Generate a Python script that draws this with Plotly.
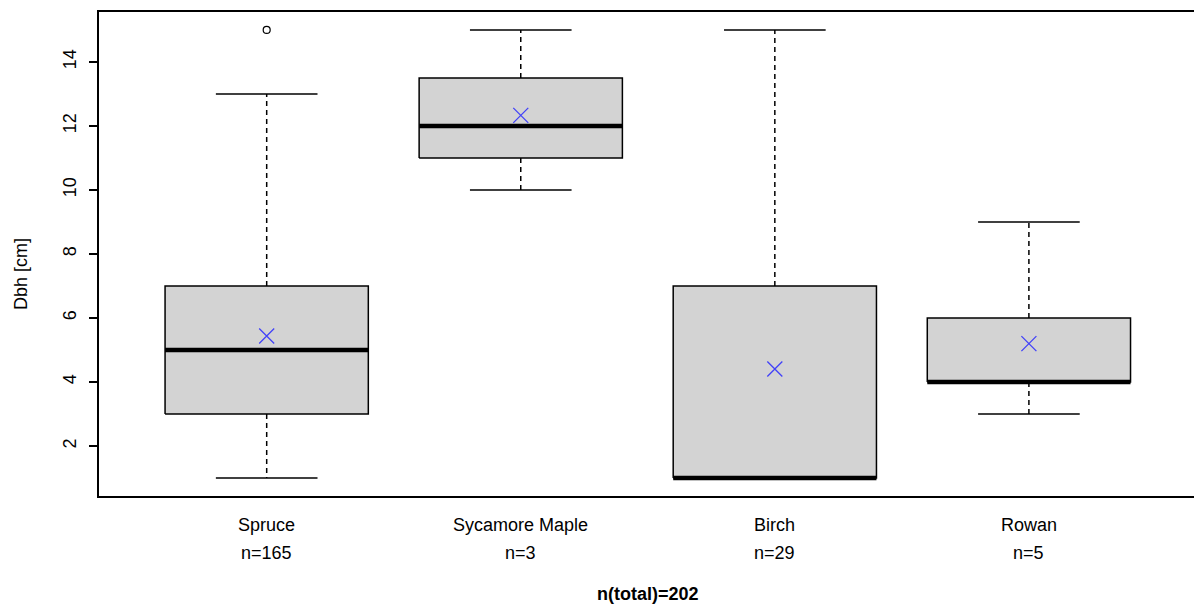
import plotly.graph_objects as go

# Summary statistics per tree species (diameter at breast height, cm)
species = ["Spruce", "Sycamore Maple", "Birch", "Rowan"]
n_obs = [165, 3, 29, 5]
lower_whisker = [1, 10, 1, 3]
q1 = [3, 11, 1, 4]
median = [5, 12, 1, 4]
q3 = [7, 13.5, 7, 6]
upper_whisker = [13, 15, 15, 9]
means = [5.44, 12.33, 4.41, 5.2]
outliers = [[15], [], [], []]
y_ticks = [2, 4, 6, 8, 10, 12, 14]

FONT = "Liberation Sans, Arial, sans-serif"
BOX_HALF = 0.4
STAPLE_HALF = 0.2
LW = 1.5

positions = list(range(1, len(species) + 1))
fig = go.Figure()

for p, lo, a, m, b, hi in zip(positions, lower_whisker, q1, median, q3, upper_whisker):
    # dashed whiskers
    fig.add_trace(go.Scatter(
        x=[p, p, None, p, p], y=[b, hi, None, a, lo], mode="lines",
        line=dict(color="black", width=LW, dash="5px,4px"),
        hoverinfo="skip", showlegend=False))
    # staples
    fig.add_trace(go.Scatter(
        x=[p - STAPLE_HALF, p + STAPLE_HALF, None, p - STAPLE_HALF, p + STAPLE_HALF],
        y=[hi, hi, None, lo, lo], mode="lines",
        line=dict(color="black", width=LW),
        hoverinfo="skip", showlegend=False))
    # box between the hinges
    fig.add_trace(go.Scatter(
        x=[p - BOX_HALF, p + BOX_HALF, p + BOX_HALF, p - BOX_HALF, p - BOX_HALF],
        y=[a, a, b, b, a], mode="lines", fill="toself",
        fillcolor="#D3D3D3", line=dict(color="black", width=LW),
        hoverinfo="skip", showlegend=False))
    # median
    fig.add_trace(go.Scatter(
        x=[p - BOX_HALF, p + BOX_HALF], y=[m, m], mode="lines",
        line=dict(color="black", width=4.5),
        hoverinfo="skip", showlegend=False))

# outliers
ox, oy = [], []
for p, pts in zip(positions, outliers):
    for v in pts:
        ox.append(p)
        oy.append(v)
fig.add_trace(go.Scatter(
    x=ox, y=oy, mode="markers",
    marker=dict(symbol="circle-open", size=7, color="black", line=dict(width=1.2)),
    showlegend=False))

# means
fig.add_trace(go.Scatter(
    x=positions, y=means, mode="markers",
    marker=dict(symbol="x-thin-open", size=15, color="rgba(40,40,255,0.85)",
                line=dict(width=1.3, color="rgba(40,40,255,0.85)")),
    showlegend=False))

annotations = []
for p, name, n in zip(positions, species, n_obs):
    annotations.append(dict(x=p, y=0, xref="x", yref="paper", text=name,
                            showarrow=False, yanchor="middle", yshift=-29,
                            font=dict(size=18, color="black", family=FONT)))
    annotations.append(dict(x=p, y=0, xref="x", yref="paper", text=f"n={n}",
                            showarrow=False, yanchor="middle", yshift=-57,
                            font=dict(size=18, color="black", family=FONT)))
annotations.append(dict(x=2.5, y=0, xref="x", yref="paper",
                        text=f"<b>n(total)={sum(n_obs)}</b>",
                        showarrow=False, yanchor="middle", yshift=-98,
                        font=dict(size=18, color="black", family=FONT)))
annotations.append(dict(x=0, y=0.5, xref="paper", yref="paper", text="Dbh [cm]",
                        showarrow=False, textangle=-90, xanchor="center",
                        yanchor="middle", xshift=-78, yshift=-20,
                        font=dict(size=18, color="black", family=FONT)))

fig.update_layout(
    width=1194, height=605,
    margin=dict(l=99, r=0, t=12, b=109),
    paper_bgcolor="white", plot_bgcolor="white",
    font=dict(family=FONT, size=18, color="black"),
    annotations=annotations,
    xaxis=dict(range=[0.34, 4.6498], showgrid=False, zeroline=False,
               showline=True, mirror=True, linecolor="black", linewidth=LW,
               showticklabels=False, ticks=""),
    yaxis=dict(range=[0.44, 15.56], showgrid=False, zeroline=False,
               showline=True, linecolor="black", linewidth=LW,
               tickvals=y_ticks, ticktext=[str(v) for v in y_ticks],
               tickangle=-90, ticks="outside", ticklen=8, tickwidth=LW,
               tickcolor="black", ticklabelstandoff=6,
               tickfont=dict(size=18, color="black", family=FONT)),
)

fig.write_html("out.html", config={"displayModeBar": False})
